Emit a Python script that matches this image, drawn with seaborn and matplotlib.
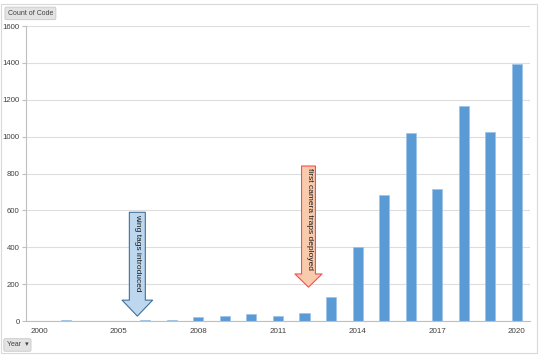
import matplotlib
matplotlib.use("Agg")
import matplotlib.pyplot as plt
import seaborn as sns
from matplotlib.patches import FancyArrowPatch, Rectangle

# Data (Count of Code per Year)
years = ["2000", "2002", "2004", "2005", "2006", "2007", "2008", "2009", "2010", "2011",
         "2012", "2013", "2014", "2015", "2016", "2017", "2018", "2019", "2020"]
counts = [2, 6, 1, 3, 5, 4, 22, 27, 40, 28, 42, 133, 402, 683, 1019, 718, 1166, 1024, 1392]
shown_labels = ["2000", "2005", "2008", "2011", "2014", "2017", "2020"]

sns.set_style("white")
plt.rcParams['font.family'] = ['Liberation Sans', 'DejaVu Sans']

fig = plt.figure(figsize=(5.51, 3.62), dpi=100)
ax = fig.add_axes([0.047, 0.113, 0.915, 0.815])

sns.barplot(x=years, y=counts, color="#5B9BD5", width=0.38, ax=ax,
            edgecolor="#9DC3E6", linewidth=0.5, saturation=1)

ax.set_ylim(0, 1600)
ax.set_xlim(-0.45, 18.5)
ax.set_yticks(range(0, 1601, 200))
ax.yaxis.grid(True, color="#DEDEDE", linewidth=0.8)
ax.set_axisbelow(True)
ax.set_xlabel("")
ax.set_ylabel("")

tick_pos = [years.index(y) for y in shown_labels]
ax.set_xticks(tick_pos)
ax.set_xticklabels(shown_labels)
ax.set_xticks([i + 0.5 for i in range(-1, len(years))], minor=True)
ax.tick_params(axis="x", which="major", length=0, labelsize=5.8, colors="#404040", pad=5)
ax.tick_params(axis="x", which="minor", length=3, color="#BFBFBF", direction="out")
ax.tick_params(axis="y", length=3, labelsize=5.6, colors="#404040", pad=1.5, color="#BFBFBF", left=True)

for side in ["top", "right"]:
    ax.spines[side].set_visible(False)
for side in ["left", "bottom"]:
    ax.spines[side].set_color("#BFBFBF")
    ax.spines[side].set_linewidth(0.8)

# annotation arrows
blue = FancyArrowPatch((3.7, 590), (3.7, 27), arrowstyle="simple,head_length=1.15,head_width=2.2,tail_width=1.15",
                       mutation_scale=10, shrinkA=0, shrinkB=0, facecolor="#BDD7EE", edgecolor="#41719C",
                       linewidth=0.8, zorder=5)
ax.add_patch(blue)
ax.text(3.72, 580, "wing tags introduced", rotation=270, ha="center", va="top", fontsize=6,
        color="#1A1A1A", zorder=6)

red = FancyArrowPatch((10.15, 841), (10.15, 184), arrowstyle="simple,head_length=0.95,head_width=1.95,tail_width=1.0",
                      mutation_scale=10, shrinkA=0, shrinkB=0, facecolor="#F8CBAD", edgecolor="#FF4B4B",
                      linewidth=0.8, zorder=5)
ax.add_patch(red)
ax.text(10.17, 828, "first camera traps deployed", rotation=270, ha="center", va="top", fontsize=6,
        color="#1A1A1A", zorder=6)

# outer chart frame and pivot buttons
fig.patches.append(Rectangle((0.002, 0.025), 0.972, 0.965, transform=fig.transFigure,
                             fill=False, edgecolor="#D9D9D9", linewidth=0.8))
fig.text(0.014, 0.963, "Count of Code", fontsize=5, color="#404040", va="center",
         bbox=dict(boxstyle="round,pad=0.4,rounding_size=0.2", facecolor="#E3E3E3", edgecolor="#C8C8C8", linewidth=0.6))
fig.text(0.012, 0.047, "Year  \u25be", fontsize=5, color="#404040", va="center",
         bbox=dict(boxstyle="round,pad=0.4,rounding_size=0.2", facecolor="#E3E3E3", edgecolor="#C8C8C8", linewidth=0.6))

fig.savefig("out.png", dpi=100)
